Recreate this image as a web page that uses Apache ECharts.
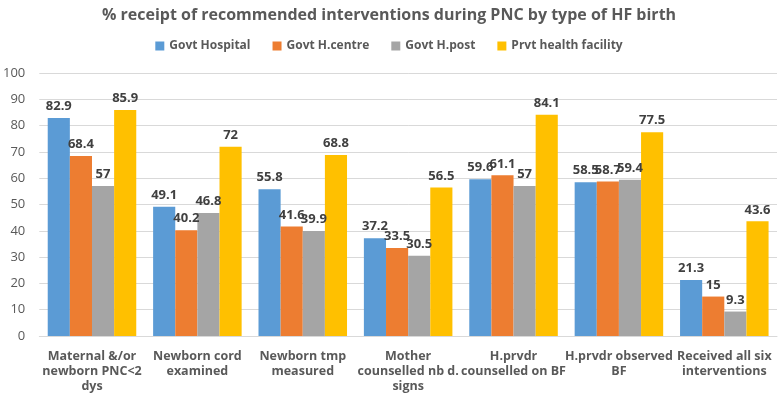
<!DOCTYPE html>
<html>
<head>
<meta charset="utf-8">
<script src="https://cdn.jsdelivr.net/npm/echarts@6/dist/echarts.min.js"></script>
<style>
  html, body { margin: 0; padding: 0; background: #fff; }
  #chart { width: 778px; height: 397px; }
</style>
</head>
<body>
<div id="chart"></div>
<script>
// 数据
var categories = [
    'Maternal &/or\nnewborn PNC<2\ndys',
    'Newborn cord\nexamined',
    'Newborn tmp\nmeasured',
    'Mother\ncounselled nb d.\nsigns',
    'H.prvdr\ncounselled on BF',
    'H.prvdr observed\nBF',
    'Received all six\ninterventions'
];
var govtHospital = [82.9, 49.1, 55.8, 37.2, 59.6, 58.5, 21.3];
var govtCentre = [68.4, 40.2, 41.6, 33.5, 61.1, 58.7, 15];
var govtPost = [57, 46.8, 39.9, 30.5, 57, 59.4, 9.3];
var prvtFacility = [85.9, 72, 68.8, 56.5, 84.1, 77.5, 43.6];

const FONT = '"Open Sans", "Noto Sans", sans-serif';
const TEXT_COLOR = '#595959';
const COLORS = ['#5B9BD5', '#ED7D31', '#A5A5A5', '#FFC000'];

var barLabel = {
    show: true,
    position: 'top',
    distance: 5,
    color: '#404040',
    fontFamily: FONT,
    fontWeight: 'bold',
    fontSize: 13
};

const makeSeries = (name, data) => ({
    name,
    type: 'bar',
    data,
    barGap: 0,
    barCategoryGap: '16%',
    label: barLabel
});

var myChart = echarts.init(document.getElementById('chart'));
myChart.setOption({
    color: COLORS,
    animation: false,
    title: {
        text: '% receipt of recommended interventions during PNC by type of HF birth',
        left: 'center',
        top: 2,
        textStyle: {
            fontFamily: FONT,
            fontWeight: 'bold',
            fontSize: 16,
            color: TEXT_COLOR
        }
    },
    legend: {
        top: 35,
        left: 'center',
        itemWidth: 9,
        itemHeight: 9,
        itemGap: 22,
        icon: 'rect',
        textStyle: {
            fontFamily: FONT,
            fontWeight: 'bold',
            fontSize: 12,
            color: TEXT_COLOR
        }
    },
    grid: {
        top: 73,
        left: 34,
        right: 1,
        bottom: 61,
        containLabel: false
    },
    xAxis: {
        type: 'category',
        data: categories,
        axisLine: { lineStyle: { color: '#D9D9D9' } },
        axisTick: { show: false },
        axisLabel: {
            interval: 0,
            margin: 13,
            lineHeight: 15,
            fontFamily: FONT,
            fontWeight: 'bold',
            fontSize: 12.5,
            color: TEXT_COLOR
        }
    },
    yAxis: {
        type: 'value',
        min: 0,
        max: 100,
        interval: 10,
        axisLine: { show: false },
        axisTick: { show: false },
        splitLine: { lineStyle: { color: '#D9D9D9' } },
        axisLabel: {
            margin: 14,
            fontFamily: FONT,
            fontSize: 13,
            color: TEXT_COLOR
        }
    },
    series: [
        makeSeries('Govt Hospital', govtHospital),
        makeSeries('Govt H.centre', govtCentre),
        makeSeries('Govt H.post', govtPost),
        makeSeries('Prvt health facility', prvtFacility)
    ]
});
</script>
</body>
</html>
